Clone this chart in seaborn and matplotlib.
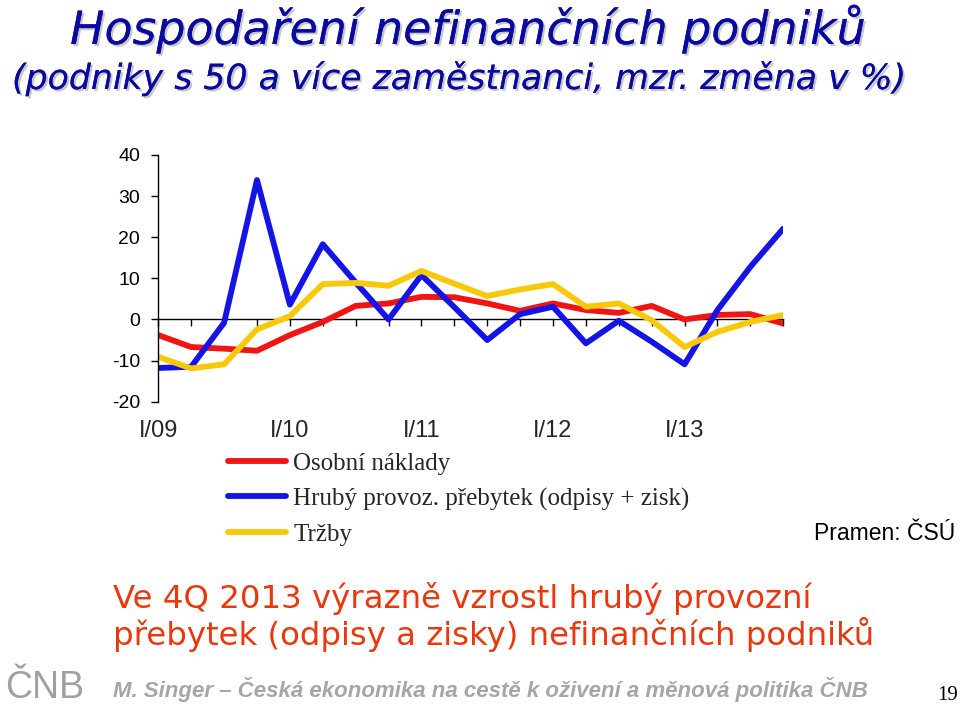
import numpy as np
import pandas as pd
import matplotlib
matplotlib.use("Agg")
import matplotlib.pyplot as plt
import matplotlib.patheffects as pe
import seaborn as sns

# Quarterly data I/09 .. IV/13 (y/y change in %)
quarters = [f"{q}/{y:02d}" for y in range(9, 14) for q in ["I", "II", "III", "IV"]]
osobni_naklady = [-3.8, -6.7, -7.1, -7.6, -3.8, -0.6, 3.3, 3.9, 5.5, 5.4,
                  3.9, 2.1, 3.9, 2.3, 1.6, 3.3, 0.0, 1.1, 1.3, -1.0]
hruby_prebytek = [-11.8, -11.5, -0.8, 33.9, 3.6, 18.3, 9.0, 0.0, 10.8, 3.0,
                  -5.0, 1.3, 3.1, -5.8, -0.3, -5.4, -10.9, 2.3, 12.8, 22.1]
trzby = [-9.1, -11.9, -10.9, -2.4, 0.8, 8.6, 8.9, 8.2, 11.8, 8.7,
         5.7, 7.3, 8.6, 3.1, 3.9, -0.2, -6.7, -3.0, -0.6, 1.1]
series_names = ["Osobní náklady", "Hrubý provoz. přebytek (odpisy + zisk)", "Tržby"]
series_colors = ["#F01414", "#1414E6", "#F8C80A"]
tick_labels = ["I/09", "I/10", "I/11", "I/12", "I/13"]
y_ticks = [-20, -10, 0, 10, 20, 30, 40]

df = pd.DataFrame({
    "t": list(range(len(quarters))) * 3,
    "value": osobni_naklady + hruby_prebytek + trzby,
    "series": [series_names[0]] * 20 + [series_names[1]] * 20 + [series_names[2]] * 20,
})

sns.set_theme(style="white")
plt.rcParams["font.family"] = ["Liberation Sans", "DejaVu Sans"]
plt.rcParams["axes.unicode_minus"] = False

fig = plt.figure(figsize=(9.6, 7.07), dpi=100)
ax = fig.add_axes([0.1649, 0.4318, 0.651, 0.349])

sns.lineplot(data=df, x="t", y="value", hue="series", hue_order=series_names,
             palette=series_colors, linewidth=4.2, ax=ax, legend=True)

ax.set_xlim(0, 19)
ax.set_ylim(-20, 40)
ax.set_yticks(y_ticks)
ax.set_yticklabels([str(v) for v in y_ticks], fontsize=14)
ax.set_xlabel("")
ax.set_ylabel("")

for s in ["top", "right"]:
    ax.spines[s].set_visible(False)
ax.spines["left"].set_color("black")
ax.spines["left"].set_linewidth(1.0)
ax.spines["bottom"].set_position(("data", 0))
ax.spines["bottom"].set_color("black")
ax.spines["bottom"].set_linewidth(1.0)
ax.spines["bottom"].set_zorder(0.5)
ax.set_xticks(range(len(quarters)))
ax.tick_params(axis="x", direction="out", length=5, width=1, color="black",
               labelbottom=False, bottom=True)
ax.tick_params(axis="y", direction="out", length=5, width=1, color="black",
               left=True, pad=8, labelcolor="black")

sec = ax.secondary_xaxis("bottom")
sec.set_xticks(list(range(0, 20, 4)))
sec.set_xticklabels(tick_labels, fontsize=17)
sec.tick_params(length=0, pad=13)
sec.spines["bottom"].set_visible(False)

leg = ax.legend(loc="upper left", bbox_to_anchor=(0.2375, 0.36),
                bbox_transform=fig.transFigure, frameon=False,
                prop={"family": "Liberation Serif", "size": 18},
                handlelength=2.3, handletextpad=0.3, labelspacing=0.5,
                borderpad=0, borderaxespad=0)
for line in leg.get_lines():
    line.set_linewidth(4.2)

shadow = [pe.withSimplePatchShadow(offset=(1.5, -1.5), shadow_rgbFace="#b0b0b0", alpha=0.7),
          pe.Normal()]
fig.text(70 / 960, 1 - 44 / 707, "Hospodaření nefinančních podniků",
         family="DejaVu Sans", style="italic", fontsize=33, color="#0A0AA0",
         va="baseline", ha="left", path_effects=shadow)
fig.text(12 / 960, 1 - 89 / 707, "(podniky s 50 a více zaměstnanci, mzr. změna v %)",
         family="DejaVu Sans", style="italic", fontsize=25, color="#0A0AA0",
         va="baseline", ha="left", path_effects=shadow)

fig.text(955 / 960, 1 - 533 / 707, "Pramen: ČSÚ", fontsize=16.5, color="black",
         ha="right", va="center")

fig.text(113 / 960, 1 - 608 / 707, "Ve 4Q 2013 výrazně vzrostl hrubý provozní",
         family="DejaVu Sans", fontsize=23.3, color="#E8380D", ha="left", va="baseline")
fig.text(113 / 960, 1 - 645 / 707, "přebytek (odpisy a zisky) nefinančních podniků",
         family="DejaVu Sans", fontsize=23.3, color="#E8380D", ha="left", va="baseline")

fig.text(5 / 960, 1 - 698 / 707, "ČNB", fontsize=27, color="#A0A0A0",
         ha="left", va="baseline")
fig.text(113 / 960, 1 - 697 / 707,
         "M. Singer – Česká ekonomika na cestě k oživení a měnová politika ČNB",
         fontsize=16, weight="bold", style="italic", color="#A6A6A6",
         ha="left", va="baseline")
fig.text(958 / 960, 1 - 700 / 707, "19", family="Liberation Serif", fontsize=15,
         color="black", ha="right", va="baseline")

fig.savefig("out.png", dpi=100)
